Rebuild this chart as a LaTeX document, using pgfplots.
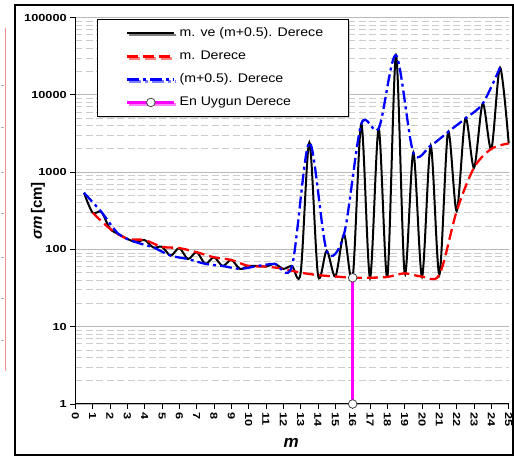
\documentclass[border=0pt]{standalone}
\usepackage{pgfplots}
\pgfplotsset{compat=1.18}
\usepackage{pgfplotstable}
\usepackage{fontspec}
\setmainfont{Liberation Sans}
\newfontfamily\tickfont[FakeStretch=1.25]{Liberation Sans}
\newfontfamily\legfont[FakeStretch=1.13]{Liberation Sans}
\usetikzlibrary{shadows}
\definecolor{mag}{RGB}{255,0,255}
\pgfplotsset{
  line legend long/.style={legend image code/.code={\path (0pt,0pt); \draw[##1] (4pt,0pt) -- (51pt,0pt); \path (55pt,0pt);}},
  mark legend long/.style={legend image code/.code={\path (0pt,0pt); \draw[##1, mark repeat=2, mark phase=2] plot coordinates {(4pt,0pt) (27.5pt,0pt) (51pt,0pt)}; \path (55pt,0pt);}},
}

\pgfplotstableread{
m v
0.5 540
1 298
1.5 306
2 185
2.5 158
3 137
3.5 124
4 132
4.5 106
5 108
5.5 83
6 104
6.5 75
7 92
7.5 65
8 79
8.5 61
9 73
9.5 56
10 61
10.5 61
11 60
11.5 65
12 56
12.5 61
13 50
13.5 2420
14 46.5
14.5 96
15 44.6
15.5 157
16 43
16.5 4200
17 43
17.5 3650
18 44
18.5 32500
19 49
19.5 1780
20 44.5
20.5 2200
21 47
21.5 3300
22 313
22.5 4950
23 1140
23.5 7700
24 2000
24.5 22500
25 2350
}\blackdata

\pgfplotstableread{
m v
1 298
2 185
3 137
4 132
5 108
6 104
7 92
8 79
9 73
10 61
11 60
12 56
13 50
14 46.5
15 44.6
16 43
17 43
18 44
19 49
20 44.5
21 47
22 313
23 1140
24 2000
25 2350
}\reddata

\pgfplotstableread{
m v
0.5 540
1.5 306
2.5 158
3.5 124
4.5 106
5.5 83
6.5 75
7.5 65
8.5 61
9.5 56
10.5 61
11.5 65
12.5 61
13.5 2420
14.5 96
15.5 157
16.5 4200
17.5 3650
18.5 32500
19.5 1780
20.5 2200
21.5 3300
22.5 4950
23.5 7700
24.5 22500
}\bluedata

\begin{document}
\begin{tikzpicture}
\path[use as bounding box] (0,0) rectangle (514pt,457pt);
\draw[line width=1.2pt] (15pt,2pt) rectangle (513pt,452pt);
\draw[red!45, line width=0.8pt] (5pt,86pt) -- (5pt,429pt);
\foreach \yy in {372,330,285,244,200,159,117} \draw[gray!60, line width=0.8pt] (0.5pt,\yy pt) -- (3.5pt,\yy pt);
\begin{axis}[
  at={(75.3pt,53pt)}, anchor=south west,
  scale only axis, width=433.4pt, height=386.5pt,
  xmin=0, xmax=25, ymin=1, ymax=100000, ymode=log,
  clip=false,
  axis x line*=bottom, axis y line*=left,
  axis line style={line width=1pt, -},
  xtick={0,1,...,25},
  xticklabels={0,1,2,3,4,5,6,7,8,9,10,11,12,13,14,15,16,17,18,19,20,21,22,23,24,25},
  ytick={1,10,100,1000,10000,100000},
  yticklabels={1,10,100,1000,10000,100000},
  minor ytick={2,3,4,5,6,7,8,9,20,30,40,50,60,70,80,90,200,300,400,500,600,700,800,900,2000,3000,4000,5000,6000,7000,8000,9000,20000,30000,40000,50000,60000,70000,80000,90000},
  tick align=outside,
  major tick length=5pt,
  minor tick length=0pt,
  tick style={black, line width=0.8pt},
  ymajorgrids, yminorgrids,
  major grid style={gray!55, line width=0.8pt, solid},
  minor grid style={gray!40, line width=0.8pt, dash pattern=on 7pt off 3.5pt},
  ticklabel style={font=\tickfont\bfseries\fontsize{10.2}{12}\selectfont},
  x tick label style={rotate=-90, anchor=west},
  xlabel={\textbf{\textit{m}}},
  ylabel={\textbf{\textit{σm}\,[cm]}},
  every axis x label/.style={at={(axis description cs:0.498,-0.101)}, anchor=center, font=\fontsize{17}{20}\selectfont},
  every axis y label/.style={at={(axis description cs:-0.086,0.5)}, rotate=90, anchor=center, font=\fontsize{15}{18}\selectfont},
  line legend long,
  legend style={at={(axis description cs:0.0494,0.996)}, anchor=north west,
    draw=black, line width=0.8pt, fill=white,
    font=\legfont\fontsize{12.5}{14}\selectfont,
    inner xsep=25pt, inner ysep=8pt,
    row sep=11pt,
    nodes={inner sep=0pt, text height=9.5pt, text depth=2.5pt},
    drop shadow={shadow xshift=2pt, shadow yshift=-2pt, fill=gray!70},
    cells={anchor=west}},
]
\addplot[black, line width=2pt, smooth, tension=0.5] table {\blackdata};
\addlegendentry{m. ve (m+0.5). Derece}
\addplot[red, line width=2.3pt, dash pattern=on 11pt off 5pt, smooth, tension=0.5] table {\reddata};
\addlegendentry{m. Derece}
\addplot[blue, line width=2.3pt, dash pattern=on 12pt off 4pt on 3pt off 4pt, smooth, tension=0.5] table {\bluedata};
\addlegendentry{(m+0.5). Derece}
\addplot[mag, line width=2.5pt, mark=*, mark size=4.3pt,
  mark options={fill=white, draw=black!80, line width=0.7pt, solid},
  mark legend long] coordinates {(16,1) (16,43)};
\addlegendentry{En Uygun Derece}
\end{axis}
\end{tikzpicture}
\end{document}
